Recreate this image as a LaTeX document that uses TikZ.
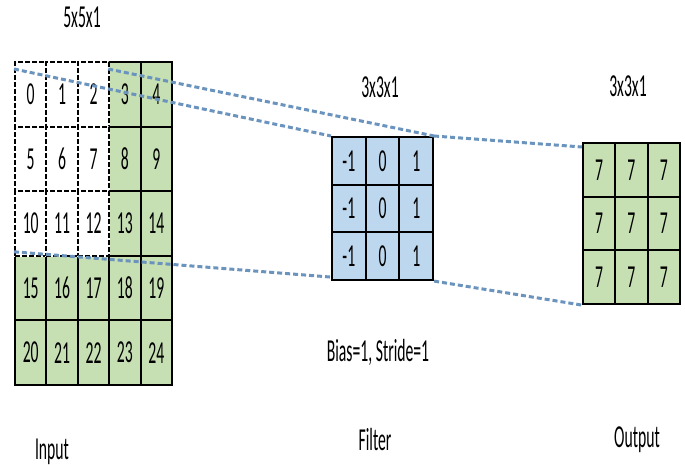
\documentclass[tikz,border=0pt]{standalone}
\usepackage{fontspec}
\setmainfont{Carlito}[FakeStretch=0.49]
\usepackage{xcolor}
\usepackage{tikz}
\usetikzlibrary{positioning}
\definecolor{cellgreen}{HTML}{C6E0B4}
\definecolor{cellblue}{HTML}{BDD7EE}
\definecolor{guide}{HTML}{6A93BD}

\begin{document}
\begin{tikzpicture}[
  x=0.5pt, y=-0.5pt,
  font=\fontsize{16}{18}\selectfont,
  incell/.style={rectangle, draw, line width=1pt, fill=cellgreen,
                 minimum width=15.7pt, minimum height=32.3pt, inner sep=0pt},
  freecell/.style={incell, fill=white, dash pattern=on 2.5pt off 1pt,
                   preaction={draw=white, solid}},
  fcell/.style={rectangle, draw, line width=1pt, fill=cellblue,
                minimum width=16.85pt, minimum height=23.85pt, inner sep=0pt},
  ocell/.style={rectangle, draw, line width=1pt, fill=cellgreen,
                minimum width=16.15pt, minimum height=26.85pt, inner sep=0pt},
  guideline/.style={guide, line width=1.5pt, dash pattern=on 2.5pt off 1.5pt}
]
  \useasboundingbox (0,0) rectangle (685,465);
  % input 5x5: shaded cells first, the 3x3 window on top
  \foreach \r in {0,...,4} {
    \foreach \c in {0,...,4} {
      \pgfmathtruncatemacro{\v}{5*\r+\c}
      \ifnum\r<3 \ifnum\c<3 \else
        \node[incell] (in-\r-\c) at ({15+31.4*(\c+0.5)},{62+64.6*(\r+0.5)}) {\v};
      \fi \else
        \node[incell] (in-\r-\c) at ({15+31.4*(\c+0.5)},{62+64.6*(\r+0.5)}) {\v};
      \fi
    }
  }
  \foreach \r in {0,1,2} {
    \foreach \c in {0,1,2} {
      \pgfmathtruncatemacro{\v}{5*\r+\c}
      \node[freecell] (in-\r-\c) at ({15+31.4*(\c+0.5)},{62+64.6*(\r+0.5)}) {\v};
    }
  }
  % filter 3x3
  \foreach \r in {0,1,2} {
    \foreach \c/\w in {0/-1,1/0,2/1} {
      \node[fcell] (f-\r-\c) at ({332+33.7*(\c+0.5)},{137+47.7*(\r+0.5)}) {\w};
    }
  }
  % output 3x3
  \foreach \r in {0,1,2} {
    \foreach \c in {0,1,2} {
      \node[ocell] (o-\r-\c) at ({583+32.3*(\c+0.5)},{143+53.7*(\r+0.5)}) {7};
    }
  }
  % labels
  \node (insize) at (82,17) {5x5x1};
  \node (fsize) at (380,87) {3x3x1};
  \node (osize) at (628,86) {3x3x1};
  \node (param) at (378,352) {Bias=1, Stride=1};
  \node (inlabel) at (52,452) {Input};
  \node (flabel) at (375,440) {Filter};
  \node (olabel) at (637,440) {Output};
  % receptive field guides
  \draw[guideline] ([yshift=-4pt]in-0-0.north west) -- (f-0-0.north west);
  \draw[guideline] ([yshift=-4pt]in-0-3.north west) -- (f-0-2.north east);
  \draw[guideline] ([yshift=1.5pt]in-3-0.north west) -- ([yshift=2pt]f-2-0.south west);
  \draw[guideline] (f-0-2.north east) -- ([yshift=-2.5pt]o-0-0.north west);
  \draw[guideline] (f-2-2.south east) -- (o-2-0.south west);
\end{tikzpicture}
\end{document}
